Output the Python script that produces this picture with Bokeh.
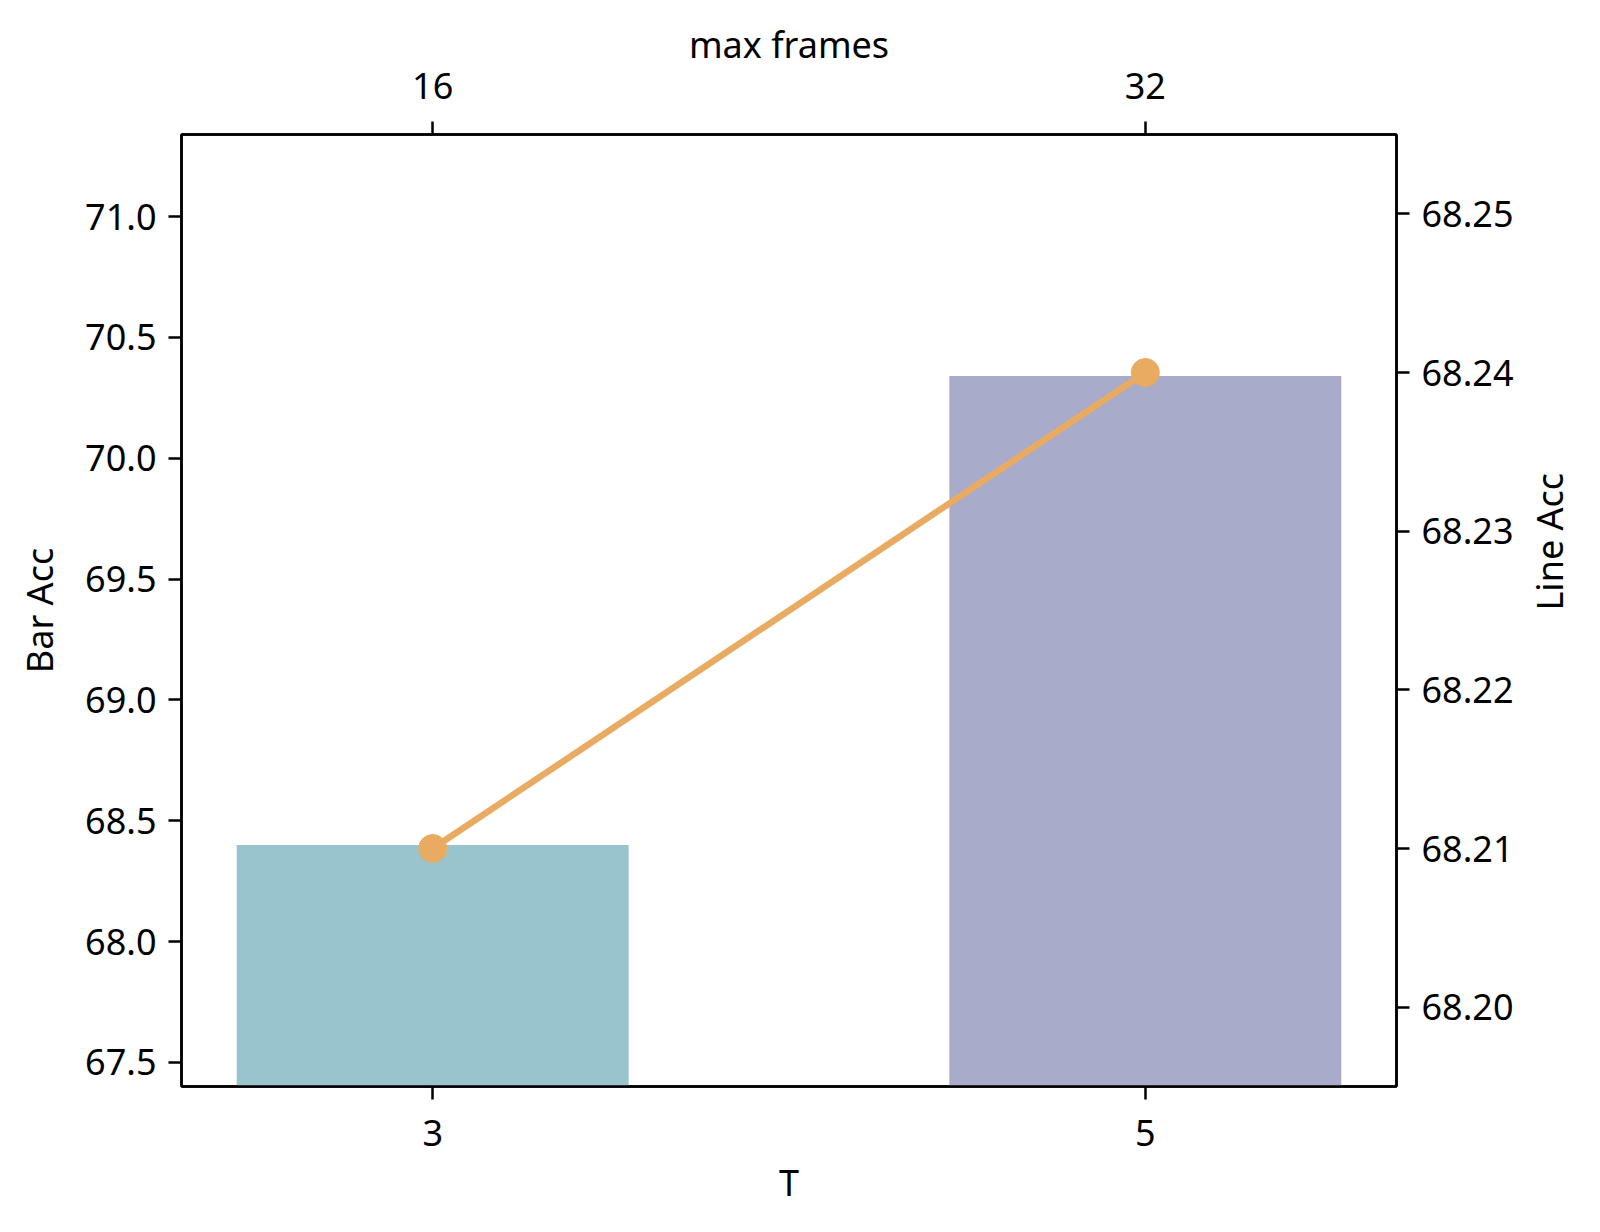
import math
from bokeh.plotting import figure
from bokeh.models import Range1d, LinearAxis, FixedTicker, ColumnDataSource
from bokeh.embed import file_html
from bokeh.resources import INLINE

# ---- data ----
T_labels = ["3", "5"]
max_frames_labels = ["16", "32"]
bar_acc = [68.40, 70.34]
line_acc = [68.21, 68.24]
bar_colors = ["#9AC4CD", "#A8ABC9"]
left_ticks = [67.5, 68.0, 68.5, 69.0, 69.5, 70.0, 70.5, 71.0]
right_ticks = [68.20, 68.21, 68.22, 68.23, 68.24, 68.25]

FONT = "Noto Sans"
FS = "36px"

xs = list(range(len(T_labels)))
y_lo = min(bar_acc) - 1.0
y_hi = max(bar_acc) + 1.0
ly_lo = min(line_acc) - 0.015
ly_hi = max(line_acc) + 0.015

p = figure(frame_width=1215, frame_height=952, output_backend="svg", toolbar_location=None,
           x_range=Range1d(-0.3525, 1.3525), y_range=Range1d(y_lo, y_hi),
           x_axis_location=None, y_axis_location=None)
p.min_border_left = 181
p.min_border_right = 180
p.min_border_top = 134
p.min_border_bottom = 130
p.xgrid.visible = False
p.ygrid.visible = False
p.outline_line_color = "black"
p.outline_line_width = 2.5
p.background_fill_color = "white"
p.border_fill_color = "white"

p.extra_y_ranges = {"line": Range1d(ly_lo, ly_hi)}

bar_src = ColumnDataSource(dict(x=xs, top=bar_acc, color=bar_colors))
p.vbar(x="x", top="top", bottom=y_lo, width=0.55, color="color", line_color=None, source=bar_src)

line_src = ColumnDataSource(dict(x=xs, y=line_acc))
p.line(x="x", y="y", line_color="#E9AB61", line_width=6.5, y_range_name="line", source=line_src)
p.scatter(x="x", y="y", size=28, fill_color="#E9AB61", line_color="#E9AB61", y_range_name="line", source=line_src)


def style(ax, label, standoff=12, label_standoff=16):
    ax.axis_label = label
    ax.axis_label_text_font = FONT
    ax.axis_label_text_font_size = FS
    ax.axis_label_text_font_style = "normal"
    ax.axis_label_text_color = "black"
    ax.axis_label_standoff = label_standoff
    ax.major_label_text_font = FONT
    ax.major_label_text_font_size = FS
    ax.major_label_text_color = "black"
    ax.major_label_standoff = standoff
    ax.axis_line_color = "black"
    ax.axis_line_width = 2.5
    ax.major_tick_line_color = "black"
    ax.major_tick_line_width = 2.5
    ax.major_tick_out = 13
    ax.major_tick_in = 0
    ax.minor_tick_line_color = None


bottom = LinearAxis(ticker=FixedTicker(ticks=xs),
                    major_label_overrides={i: t for i, t in zip(xs, T_labels)})
style(bottom, "T", standoff=20, label_standoff=9)
p.add_layout(bottom, "below")

top = LinearAxis(ticker=FixedTicker(ticks=xs),
                 major_label_overrides={i: t for i, t in zip(xs, max_frames_labels)})
style(top, "max frames", standoff=23, label_standoff=1)
p.add_layout(top, "above")

left = LinearAxis(ticker=FixedTicker(ticks=left_ticks))
left.major_label_overrides = {v: f"{v:.1f}" for v in left_ticks}
style(left, "Bar Acc", standoff=12, label_standoff=18)
p.add_layout(left, "left")

right = LinearAxis(y_range_name="line", ticker=FixedTicker(ticks=right_ticks))
right.major_label_overrides = {v: f"{v:.2f}" for v in right_ticks}
style(right, "Line Acc", standoff=12, label_standoff=33)
try:
    right.axis_label_orientation = math.pi / 2
except Exception:
    pass
p.add_layout(right, "right")

open("out.html", "w").write(file_html(p, INLINE))
